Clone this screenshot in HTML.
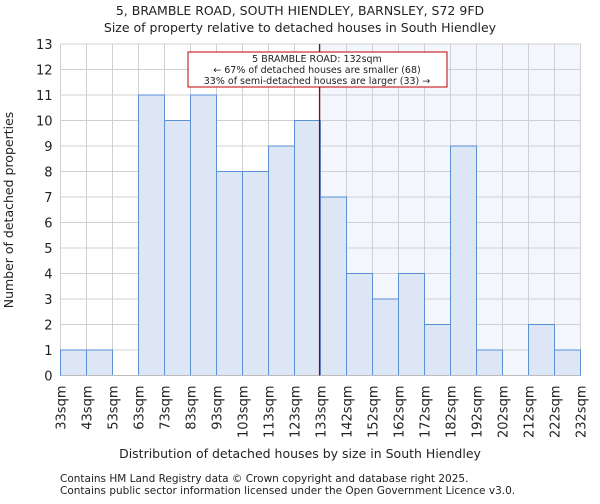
<!DOCTYPE html>
<html><head><meta charset="utf-8"><style>
body{margin:0;background:#fff;font-family:"DejaVu Sans","Liberation Sans",sans-serif;}
svg text{font-family:"DejaVu Sans","Liberation Sans",sans-serif;fill:#222;}
</style></head><body>
<svg id="chart" width="600" height="500">
<text x="300" y="15" text-anchor="middle" font-size="12.5">5, BRAMBLE ROAD, SOUTH HIENDLEY, BARNSLEY, S72 9FD</text>
<text x="300" y="32" text-anchor="middle" font-size="12.5">Size of property relative to detached houses in South Hiendley</text>
<g id="plot"></g>
<text x="300" y="458" text-anchor="middle" font-size="12.5">Distribution of detached houses by size in South Hiendley</text>
<text transform="translate(13,210) rotate(-90)" text-anchor="middle" font-size="12.5">Number of detached properties</text>
<text x="60" y="482" font-size="10.5">Contains HM Land Registry data © Crown copyright and database right 2025.</text>
<text x="60" y="494" font-size="10.5">Contains public sector information licensed under the Open Government Licence v3.0.</text>
</svg>
<script>
const categories=["33sqm","43sqm","53sqm","63sqm","73sqm","83sqm","93sqm","103sqm","113sqm","123sqm","133sqm","142sqm","152sqm","162sqm","172sqm","182sqm","192sqm","202sqm","212sqm","222sqm","232sqm"];
const counts=[1,1,0,11,10,11,8,8,9,10,7,4,3,4,2,9,1,0,2,1];
const yTicks=[0,1,2,3,4,5,6,7,8,9,10,11,12,13];
const markerIndex=10;
const NS="http://www.w3.org/2000/svg";
const g=document.getElementById("plot");
const X0=60.5,X1=580.5,Y0=375.5,Y1=44,YMAX=13;
const bw=(X1-X0)/counts.length;
const xs=i=>X0+i*bw;
const ys=v=>Y0-(v/YMAX)*(Y0-Y1);
function mk(t,a){const e=document.createElementNS(NS,t);for(const k in a)e.setAttribute(k,a[k]);g.appendChild(e);return e;}
let e=mk("rect",{x:xs(markerIndex),y:Y1,width:X1-xs(markerIndex),height:Y0-Y1,fill:"#f3f6fd"});


yTicks.forEach(v=>{const l=mk("line",{x1:X0,x2:X1,y1:ys(v),y2:ys(v),stroke:"#d0d0d0","stroke-width":1});


const t=mk("text",{x:X0-8,y:ys(v)+5,"text-anchor":"end","font-size":"13"});t.textContent=v;

});
categories.forEach((c,i)=>{const l=mk("line",{x1:xs(i),x2:xs(i),y1:Y1,y2:Y0,stroke:"#d0d0d0","stroke-width":1});


const t=mk("text",{transform:`translate(${xs(i)+5},${Y0+10}) rotate(-90)`,"text-anchor":"end","font-size":"13"});t.textContent=c;

});
counts.forEach((v,i)=>{if(v<=0)return;const r=mk("rect",{x:xs(i),y:ys(v),width:bw,height:Y0-ys(v),fill:"#dce6f5",stroke:"#5b8fd6","stroke-width":1});

});
e=mk("line",{x1:X0,x2:X1,y1:Y0,y2:Y0,stroke:"#bbb"});


e=mk("line",{x1:xs(markerIndex)-1,x2:xs(markerIndex)-1,y1:Y1,y2:Y0,stroke:"#a00000","stroke-width":1.2});


e=mk("rect",{x:188,y:52,width:259,height:35,fill:"#fff",stroke:"#c00000","stroke-width":1});


["5 BRAMBLE ROAD: 132sqm","← 67% of detached houses are smaller (68)","33% of semi-detached houses are larger (33) →"].forEach((s,k)=>{const t=mk("text",{x:317,y:62+k*11,"text-anchor":"middle","font-size":"9.5"});t.textContent=s;

});
</script>
</body></html>
